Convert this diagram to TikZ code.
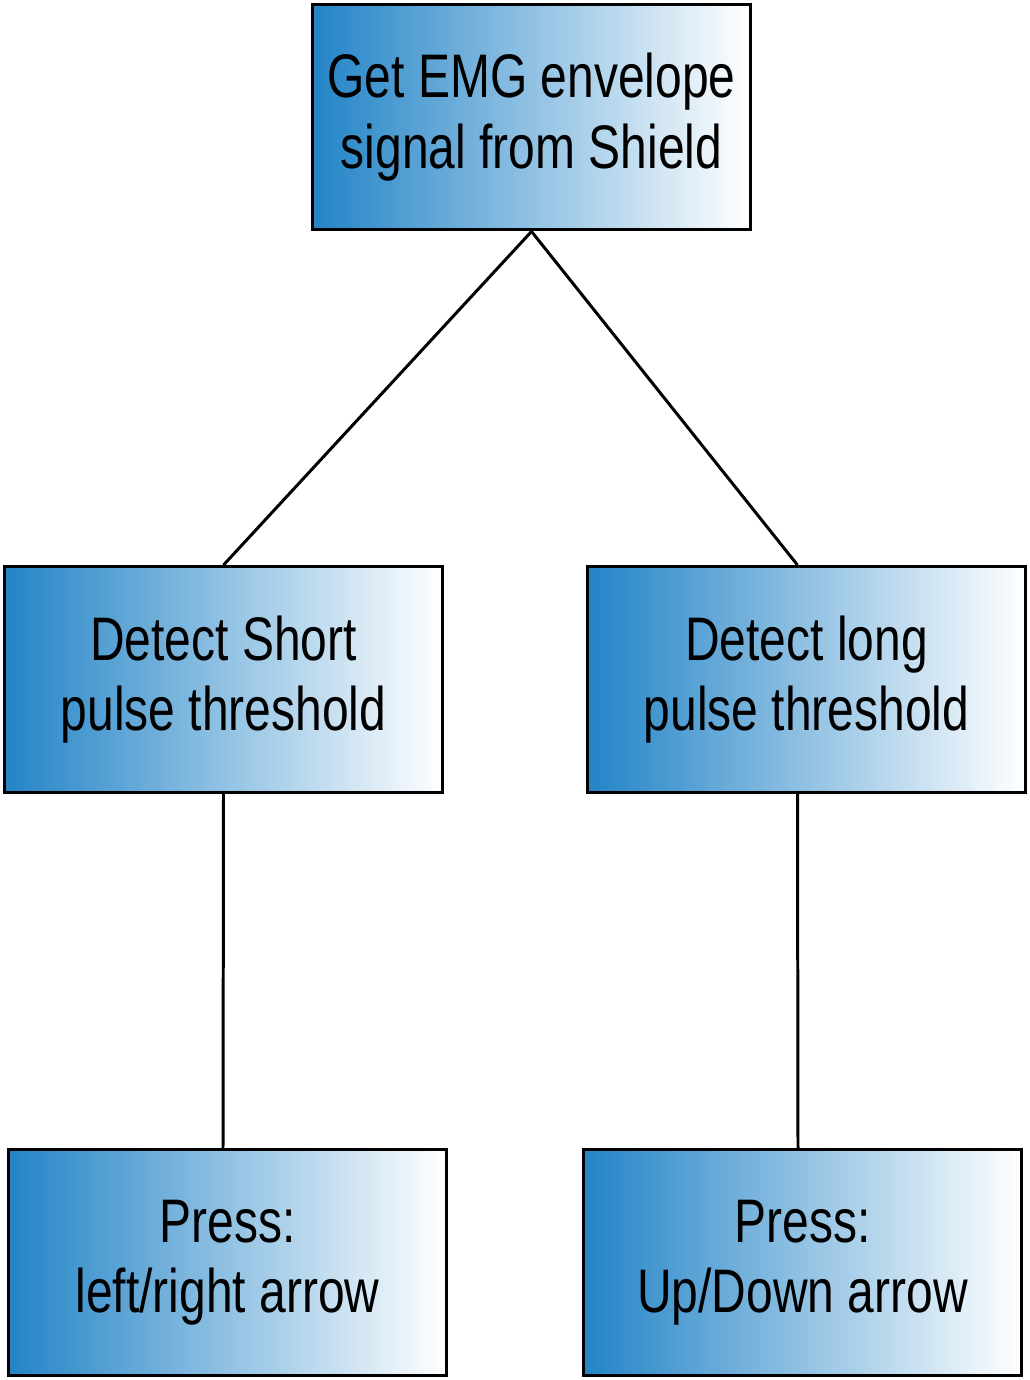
\documentclass[tikz,border=0pt]{standalone}
\usepackage{fontspec}
\setmainfont{Liberation Sans}[FakeStretch=0.78]
\definecolor{emgblue}{RGB}{35,132,199}
\begin{document}
\begin{tikzpicture}[x=0.02cm, y=-0.02cm,
  box/.style={draw, line width=1.7pt, left color=emgblue, right color=white,
    minimum width=8.76cm, minimum height=4.52cm, inner sep=0pt, align=center,
    font=\fontsize{35}{40}\selectfont},
  link/.style={line width=1.7pt}]
\useasboundingbox (0,0) rectangle (1030,1380);
% boxes
\node[box] (get) at (531.5,117) {Get EMG envelope\\signal from Shield};
\node[box] (short) at (223.5,679.5) {Detect Short\\pulse threshold};
\node[box] (long) at (806.5,679.5) {Detect long\\pulse threshold};
\node[box] (lr) at (227.5,1262.5) {Press:\\left/right arrow};
\node[box] (ud) at (802.5,1262.5) {Press:\\Up/Down arrow};
% links
\draw[link] (get.south) -- (short.north);
\draw[link] (get.south) -- ([xshift=-0.18cm]long.north);
\draw[link] (short.south) -- ([xshift=-0.09cm]lr.north);
\draw[link] ([xshift=-0.18cm]long.south) -- ([xshift=-0.09cm]ud.north);
\end{tikzpicture}
\end{document}
